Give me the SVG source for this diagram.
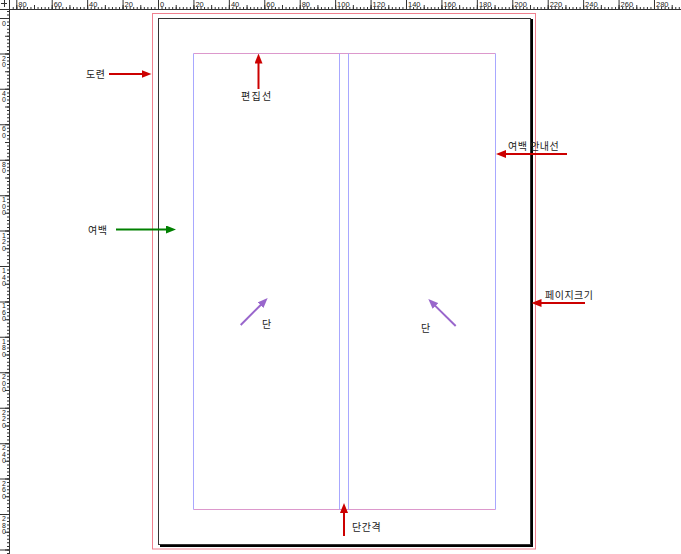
<svg xmlns="http://www.w3.org/2000/svg" width="681" height="554" viewBox="0 0 681 554">
<style>
.lbl{font-family:"Noto Sans CJK KR","Noto Sans",sans-serif;font-size:10px;fill:#222;letter-spacing:0.5px}
.rl{font-family:"Liberation Sans",Arial,sans-serif;font-size:7.5px;fill:#222}
.rlv{font-family:"Liberation Sans",Arial,sans-serif;font-size:7px;fill:#222;text-anchor:middle}
.tk{stroke:#333;fill:none}
.red{stroke:#cc0000;stroke-width:2;fill:none}
.grn{stroke:#008000;stroke-width:2;fill:none}
.pur{stroke:#9966cc;stroke-width:2;fill:none}
.mg{stroke:#dc98cc;fill:none}
.cg{stroke:#a8a8ff;fill:none}
</style>
<defs>
<marker id="ar" markerUnits="userSpaceOnUse" markerWidth="10" markerHeight="8" refX="2" refY="4" orient="auto"><path d="M0,0 L10,4 L0,8 z" fill="#cc0000"/></marker>
<marker id="ag" markerUnits="userSpaceOnUse" markerWidth="10" markerHeight="8" refX="2" refY="4" orient="auto"><path d="M0,0 L10,4 L0,8 z" fill="#008000"/></marker>
<marker id="ap" markerUnits="userSpaceOnUse" markerWidth="10" markerHeight="8" refX="2" refY="4" orient="auto"><path d="M0,0 L10,4 L0,8 z" fill="#9966cc"/></marker>
</defs>
<rect x="0" y="0" width="681" height="554" fill="#fff"/>

<g id="ruler-top">
<line class="tk" x1="10" y1="9.5" x2="681" y2="9.5"/>
<line class="tk" x1="12.745" y1="8" x2="681" y2="8" stroke-width="2" stroke-dasharray="1 2.5428"/>
<line class="tk" x1="16.286" y1="7" x2="681" y2="7" stroke-width="4" stroke-dasharray="1 16.714"/>
<line class="tk" x1="16.286" y1="4.5" x2="681" y2="4.5" stroke-width="9" stroke-dasharray="1 34.428"/>
<text class="rl" x="18.3" y="7">80</text>
<text class="rl" x="53.7" y="7">60</text>
<text class="rl" x="89.1" y="7">40</text>
<text class="rl" x="124.6" y="7">20</text>
<text class="rl" x="160" y="7">0</text>
<text class="rl" x="195.4" y="7">20</text>
<text class="rl" x="230.9" y="7">40</text>
<text class="rl" x="266.3" y="7">60</text>
<text class="rl" x="301.7" y="7">80</text>
<text class="rl" x="337.1" y="7">100</text>
<text class="rl" x="372.6" y="7">120</text>
<text class="rl" x="408" y="7">140</text>
<text class="rl" x="443.4" y="7">160</text>
<text class="rl" x="478.9" y="7">180</text>
<text class="rl" x="514.3" y="7">200</text>
<text class="rl" x="549.7" y="7">220</text>
<text class="rl" x="585.1" y="7">240</text>
<text class="rl" x="620.6" y="7">260</text>
<text class="rl" x="656" y="7">280</text>
</g>

<g id="ruler-left">
<line class="tk" x1="9.5" y1="10" x2="9.5" y2="554"/>
<line class="tk" x1="8" y1="10.914" x2="8" y2="554" stroke-width="2" stroke-dasharray="1 2.5428"/>
<line class="tk" x1="7" y1="18" x2="7" y2="554" stroke-width="4" stroke-dasharray="1 16.714"/>
<line class="tk" x1="4.5" y1="18" x2="4.5" y2="554" stroke-width="9" stroke-dasharray="1 34.428"/>
<text class="rlv" x="4" y="25.5">0</text>
<text class="rlv" x="4" y="60.5">2<tspan x="4" dy="6.5">0</tspan></text>
<text class="rlv" x="4" y="95.9">4<tspan x="4" dy="6.5">0</tspan></text>
<text class="rlv" x="4" y="131.3">6<tspan x="4" dy="6.5">0</tspan></text>
<text class="rlv" x="4" y="166.7">8<tspan x="4" dy="6.5">0</tspan></text>
<text class="rlv" x="4" y="202.1">1<tspan x="4" dy="6.5">0</tspan><tspan x="4" dy="6.5">0</tspan></text>
<text class="rlv" x="4" y="237.6">1<tspan x="4" dy="6.5">2</tspan><tspan x="4" dy="6.5">0</tspan></text>
<text class="rlv" x="4" y="273">1<tspan x="4" dy="6.5">4</tspan><tspan x="4" dy="6.5">0</tspan></text>
<text class="rlv" x="4" y="308.4">1<tspan x="4" dy="6.5">6</tspan><tspan x="4" dy="6.5">0</tspan></text>
<text class="rlv" x="4" y="343.9">1<tspan x="4" dy="6.5">8</tspan><tspan x="4" dy="6.5">0</tspan></text>
<text class="rlv" x="4" y="379.3">2<tspan x="4" dy="6.5">0</tspan><tspan x="4" dy="6.5">0</tspan></text>
<text class="rlv" x="4" y="414.7">2<tspan x="4" dy="6.5">2</tspan><tspan x="4" dy="6.5">0</tspan></text>
<text class="rlv" x="4" y="450.1">2<tspan x="4" dy="6.5">4</tspan><tspan x="4" dy="6.5">0</tspan></text>
<text class="rlv" x="4" y="485.6">2<tspan x="4" dy="6.5">6</tspan><tspan x="4" dy="6.5">0</tspan></text>
<text class="rlv" x="4" y="521">2<tspan x="4" dy="6.5">8</tspan><tspan x="4" dy="6.5">0</tspan></text>
</g>

<g id="ruler-corner">
<rect x="0" y="0" width="9" height="9" fill="#fff"/>
<path class="tk" d="M9.5 0 V10 M0 9.5 H10 M1 3.5 H7 M4.5 0 V7"/>
</g>

<g id="page">
<rect id="bleed" x="152.5" y="13.5" width="383" height="535.5" fill="none" stroke="#f0808f"/>
<rect id="trim" x="158.5" y="18.5" width="372" height="526" fill="#fff" stroke="#333"/>
<path id="shadow" d="M532 19 V546 M160 546 H533" stroke="#000" stroke-width="2" fill="none"/>
<path id="margin-h" class="mg" d="M193.5 53.5 H495.5 M193.5 509.5 H495.5"/>
<path id="column-guides" class="cg" d="M193.5 53.5 V509.5 M495.5 53.5 V509.5 M339.5 53.5 V509.5 M348.5 53.5 V509.5"/>
</g>

<g id="connectors">
<line class="red" x1="109" y1="74" x2="143.5" y2="74" marker-end="url(#ar)"/>
<line class="red" x1="258.5" y1="89" x2="258.5" y2="61.5" marker-end="url(#ar)"/>
<line class="red" x1="567" y1="154" x2="504" y2="154" marker-end="url(#ar)"/>
<line class="grn" x1="116" y1="229.5" x2="168" y2="229.5" marker-end="url(#ag)"/>
<line class="red" x1="585" y1="303" x2="539.5" y2="303" marker-end="url(#ar)"/>
<line class="pur" x1="240.7" y1="325" x2="262" y2="303.7" marker-end="url(#ap)"/>
<line class="pur" x1="455.7" y1="326" x2="434" y2="304.6" marker-end="url(#ap)"/>
<line class="red" x1="344" y1="536" x2="344" y2="511" marker-end="url(#ar)"/>
</g>

<g id="label-bleed"><text class="lbl" x="86" y="77.5">도련</text></g>
<g id="label-trim-edit"><text class="lbl" x="241" y="99.5" style="letter-spacing:1.3px">편집선</text></g>
<g id="label-margin-guide"><text class="lbl" x="508" y="150">여백 안내선</text></g>
<g id="label-margin"><text class="lbl" x="88" y="233.5">여백</text></g>
<g id="label-page-size"><text class="lbl" x="545" y="298.5">페이지크기</text></g>
<g id="label-column-left"><text class="lbl" x="262" y="327.5">단</text></g>
<g id="label-column-right"><text class="lbl" x="421" y="331.5">단</text></g>
<g id="label-gutter"><text class="lbl" x="352" y="530.5">단간격</text></g>
</svg>
